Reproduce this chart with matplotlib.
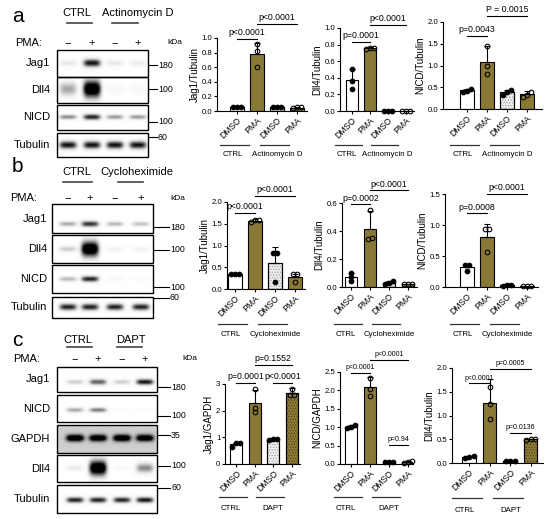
import numpy as np
import matplotlib
matplotlib.use('Agg')
import matplotlib.pyplot as plt
from matplotlib.patches import Rectangle

plt.rcParams['font.family'] = ['Liberation Sans', 'DejaVu Sans']
plt.rcParams['hatch.linewidth'] = 0.5

W, H = 550, 519
OLIVE = '#8a7934'
LIGHT = '#ededed'

# ---------------- bar chart data (DMSO, PMA, DMSO, PMA) ----------------
tick_labels = ['DMSO', 'PMA', 'DMSO', 'PMA']

# a: Actinomycin D
a1_pts = [[0.05, 0.06, 0.05], [0.60, 0.82, 0.92], [0.06, 0.06, 0.06], [0.04, 0.05, 0.05]]
a1_err = [0.01, 0.15, 0.005, 0.01]
a2_pts = [[0.50, 0.36, 0.27], [0.76, 0.76, 0.75], [0.005, 0.005, 0.005], [0.005, 0.005, 0.005]]
a2_err = [0.13, 0.01, 0.0, 0.0]
a3_pts = [[0.40, 0.47, 0.42], [1.45, 1.00, 0.80], [0.43, 0.33, 0.40], [0.40, 0.28, 0.33]]
a3_err = [0.04, 0.37, 0.05, 0.08]

# b: Cycloheximide
b1_pts = [[0.34, 0.34, 0.34], [1.58, 1.58, 1.55], [0.82, 0.82, 0.15], [0.34, 0.34, 0.17]]
b1_err = [0.01, 0.03, 0.36, 0.06]
b2_pts = [[0.10, 0.07, 0.04], [0.55, 0.34, 0.35], [0.04, 0.03, 0.025], [0.02, 0.02, 0.02]]
b2_err = [0.03, 0.13, 0.01, 0.0]
b3_pts = [[0.36, 0.36, 0.26], [0.93, 0.93, 0.57], [0.02, 0.03, 0.04], [0.01, 0.01, 0.01]]
b3_err = [0.03, 0.2, 0.01, 0.0]

# c: DAPT
c1_pts = [[0.78, 0.78, 0.65], [2.80, 2.10, 1.95], [0.92, 0.92, 0.90], [2.80, 2.60, 2.60]]
c1_err = [0.05, 0.5, 0.02, 0.2]
c2_pts = [[1.05, 1.00, 0.98], [2.35, 2.05, 1.85], [0.05, 0.05, 0.06], [0.07, 0.05, 0.04]]
c2_err = [0.05, 0.27, 0.01, 0.02]
c3_pts = [[0.15, 0.12, 0.10], [1.60, 1.24, 0.92], [0.05, 0.05, 0.04], [0.50, 0.50, 0.49]]
c3_err = [0.03, 0.52, 0.01, 0.01]

# ---------------- western blot band intensities (4 lanes) ----------------
a_blot_names = ['Jag1', 'Dll4', 'NICD', 'Tubulin']
a_bands = [[0.18, 0.95, 0.18, 0.15], [0.45, 1.3, 0.07, 0.07],
           [0.55, 0.9, 0.5, 0.5], [0.95, 0.95, 0.95, 0.95]]
a_kda = ['180', '100', '100', '60']

b_blot_names = ['Jag1', 'Dll4', 'NICD', 'Tubulin']
b_bands = [[0.45, 0.85, 0.4, 0.35], [0.3, 1.3, 0.1, 0.1],
           [0.4, 0.9, 0.06, 0.04], [0.9, 0.9, 0.9, 0.9]]
b_kda = ['180', '100', '100', '60']

c_blot_names = ['Jag1', 'NICD', 'GAPDH', 'Dll4', 'Tubulin']
c_bands = [[0.3, 0.7, 0.3, 0.95], [0.45, 0.6, 0.04, 0.04], [1.0, 0.95, 1.0, 0.95],
           [0.15, 1.3, 0.06, 0.55], [0.9, 0.9, 0.9, 0.95]]
c_kda = ['180', '100', '35', '100', '60']

fig = plt.figure(figsize=(W / 100, H / 100), dpi=100)
ov = fig.add_axes([0, 0, 1, 1])
ov.set_xlim(0, W)
ov.set_ylim(H, 0)
ov.axis('off')


def px_axes(left, top, right, bottom):
    return fig.add_axes([left / W, 1 - bottom / H, (right - left) / W, (bottom - top) / H])


def draw_blot(x0, y0, x1, y1, lanes, vals, yc, hts, bg=0.0):
    xs = np.linspace(x0, x1, int((x1 - x0) * 4))
    ys = np.linspace(y0, y1, int((y1 - y0) * 4))
    X, Y = np.meshgrid(xs, ys)
    img = np.full(X.shape, float(bg))
    for xc, v, h in zip(lanes, vals, hts):
        img += v * np.exp(-((X - xc) / 9.0) ** 4 - ((Y - yc) / h) ** 2)
    img = np.clip(img, 0, 1)
    ov.imshow(img, cmap='Greys', vmin=0, vmax=1, extent=(x0, x1, y1, y0),
              aspect='auto', interpolation='bilinear', zorder=1)
    ov.add_patch(Rectangle((x0, y0), x1 - x0, y1 - y0, fill=False, lw=1.0,
                           edgecolor='k', zorder=2))


def blot_panel(letter, ly, head, head_x, head_y, head_lines, line_y, pma_y, pma_x,
               lanes, kda_x, names, bands, box_x, boxes, ycs, hts, bgs, label_x,
               kda, kda_y, mk_x1):
    bx0, bx1 = box_x
    ov.text(12, ly, letter, fontsize=15, va='center', ha='left')
    for t, hx, (l0, l1) in zip(head, head_x, head_lines):
        ov.text(hx, head_y, t, fontsize=8, ha='center', va='center')
        ov.plot([l0, l1], [line_y, line_y], color='#444444', lw=1.2)
    ov.text(pma_x, pma_y, 'PMA:', fontsize=8, ha='left', va='center')
    for k, lx in enumerate(lanes):
        ov.text(lx, pma_y, '\u2212' if k % 2 == 0 else '+', fontsize=8,
                ha='center', va='center')
    ov.text(kda_x, pma_y, 'kDa', fontsize=6, ha='left', va='center')
    for name, vals, (by0, by1), yc, h, bg in zip(names, bands, boxes, ycs, hts, bgs):
        draw_blot(bx0, by0, bx1, by1, lanes, vals, yc, h, bg)
        ov.text(label_x, (by0 + by1) / 2, name, fontsize=8, ha='right', va='center')
    for t, y in zip(kda, kda_y):
        ov.plot([bx1, mk_x1], [y, y], color='k', lw=0.8)
        ov.text(mk_x1 + 1, y, t, fontsize=6.3, ha='left', va='center')


def spread(vals, ymax):
    vals = np.asarray(vals, float)
    order = np.argsort(vals)
    offs = np.zeros(len(vals))
    tol = 0.045 * ymax
    clusters, cur = [], [order[0]]
    for a, b in zip(order[:-1], order[1:]):
        if vals[b] - vals[a] < tol:
            cur.append(b)
        else:
            clusters.append(cur)
            cur = [b]
    clusters.append(cur)
    for cl in clusters:
        n = len(cl)
        for k, idx in enumerate(cl):
            offs[idx] = (k - (n - 1) / 2) * 0.22
    return offs


def bar_chart(rect, xlim, ymax, yticks, fmt, ylabel, pts, err, faces, hatches,
              brackets, groups, gline_y, glabel_y, pfont=6.3):
    ax = px_axes(*rect)
    ax.set_facecolor('none')
    x = np.arange(len(pts))
    for i in x:
        m = np.mean(pts[i])
        ax.bar(i, m, width=0.66, color=faces[i], edgecolor='k', linewidth=0.8, zorder=2)
        if hatches[i]:
            ax.bar(i, m, width=0.66, color='none', edgecolor=hatches[i], hatch='......',
                   linewidth=0, zorder=2.5)
            ax.bar(i, m, width=0.66, color='none', edgecolor='k', linewidth=0.8, zorder=2.6)
        if err[i] > 0:
            ax.errorbar(i, m, yerr=[[0], [err[i]]], color='k', lw=0.8, capsize=2,
                        capthick=0.8, zorder=3)
        offs = spread(pts[i], ymax)
        filled = (i % 2 == 0)
        ax.plot(i + offs, pts[i], 'o', ms=3.3, mfc='k' if filled else 'none',
                mec='k', mew=0.8, zorder=4, clip_on=False)
    ax.set_xlim(*xlim)
    ax.set_ylim(0, ymax)
    for s in ['top', 'right']:
        ax.spines[s].set_visible(False)
    for s in ['left', 'bottom']:
        ax.spines[s].set_linewidth(0.8)
    ax.set_yticks(yticks)
    ax.set_yticklabels([fmt.format(t) for t in yticks])
    ax.set_xticks(x)
    ax.set_xticklabels(tick_labels, rotation=45, ha='right', rotation_mode='anchor',
                       fontsize=6.2)
    ax.tick_params(axis='both', length=2.2, width=0.8, pad=1.2)
    ax.tick_params(axis='y', labelsize=5.6)
    ax.set_ylabel(ylabel, fontsize=7, labelpad=1.5)
    for i0, i1, y, txt in brackets:
        ax.plot([i0, i1], [y, y], color='k', lw=0.8, clip_on=False)
        ax.annotate(txt, ((i0 + i1) / 2, y), xytext=(0, 1.2), textcoords='offset points',
                    ha='center', va='bottom', fontsize=pfont, annotation_clip=False)
    fig.canvas.draw()
    for k, (txt, i0, i1) in enumerate(groups):
        p0 = ax.transData.transform((i0, 0))[0]
        p1 = ax.transData.transform((i1, 0))[0]
        l0, l1 = p0 - 17, p1 - 8
        ov.plot([l0, l1], [gline_y, gline_y], color='#333333', lw=0.9)
        shift = -2 if k == 0 else 3
        ov.text((l0 + l1) / 2 + shift, glabel_y, txt, fontsize=5.7, ha='center',
                va='center')
    return ax


# ---------------- blots ----------------
blot_panel('a', 16, ['CTRL', 'Actinomycin D'], [77, 138], 13, [(67, 92), (112, 138)], 23,
           43, 15, [68, 92, 115, 138], 167, a_blot_names, a_bands, (57, 148),
           [(50, 77), (77, 103), (105, 130), (133, 157)], [63, 89, 117, 145],
           [[3, 4, 3, 3], [7, 9, 6, 6], [2.5, 3, 2.5, 2.5], [4, 4, 4, 4]],
           [0, 0, 0, 0], 50, a_kda, [65, 89, 122, 137], 157)

blot_panel('b', 166, ['CTRL', 'Cycloheximide'], [77, 137], 172, [(63, 92), (118, 143)], 182,
           198, 10, [68, 90, 115, 141], 170, b_blot_names, b_bands, (52, 153),
           [(204, 233), (235, 263), (265, 293), (297, 318)], [224, 249, 279, 307],
           [[2.5, 3, 2.5, 2.5], [3, 8, 3, 3], [2.5, 3, 2.5, 2.5], [3.5, 3.5, 3.5, 3.5]],
           [0, 0, 0, 0], 47, b_kda, [227, 250, 287, 298], 169)

blot_panel('c', 341, ['CTRL', 'DAPT'], [78, 131], 340, [(67, 92), (117, 142)], 347,
           359, 13, [75, 98, 122, 145], 182, c_blot_names, c_bands, (57, 157),
           [(367, 392), (395, 422), (425, 453), (455, 482), (485, 513)],
           [382, 410, 438, 468, 500],
           [[2.5, 3, 2.5, 3], [2.5, 2.5, 2.5, 2.5], [3.5, 3.5, 3.5, 3.5], [3, 8, 3, 5],
            [3, 3, 3, 3]],
           [0, 0, 0.3, 0, 0], 50, c_kda, [387, 416, 435, 466, 488], 170)

# ---------------- bar charts ----------------
face_ab = ['white', OLIVE, LIGHT, OLIVE]
hatch_ab = [None, None, '#9a9a9a', None]
face_c = ['white', OLIVE, LIGHT, OLIVE]
hatch_c = [None, None, '#9a9a9a', '#4a4020']

bar_chart((217, 38, 307, 111), (-1.0, 3.5), 1.0, [0, 0.2, 0.4, 0.6, 0.8, 1.0], '{:.1f}',
          'Jag1/Tubulin', a1_pts, a1_err, face_ab, hatch_ab,
          [(0, 1, 0.99, 'p<0.0001'), (1, 3, 1.19, 'p<0.0001')],
          [('CTRL', 0, 1), ('Actinomycin D', 2, 3)], 145, 155)
bar_chart((340, 28, 414, 111), (-0.67, 3.44), 1.0, [0, 0.2, 0.4, 0.6, 0.8, 1.0], '{:.1f}',
          'Dll4/Tubulin', a2_pts, a2_err, face_ab, hatch_ab,
          [(0, 1, 0.83, 'p=0.0001'), (1, 3, 1.04, 'p<0.0001')],
          [('CTRL', 0, 1), ('Actinomycin D', 2, 3)], 145, 155)
bar_chart((443, 22, 542, 109), (-1.2, 3.75), 2.0, [0, 0.5, 1.0, 1.5, 2.0], '{:.1f}',
          'NICD/Tubulin', a3_pts, a3_err, face_ab, hatch_ab,
          [(0, 1, 1.68, 'p=0.0043'), (1, 3, 2.14, 'P = 0.0015')],
          [('CTRL', 0, 1), ('Actinomycin D', 2, 3)], 145, 155)

bar_chart((227, 202, 305, 289), (-0.4, 3.5), 2.0, [0, 0.5, 1.0, 1.5, 2.0], '{:.1f}',
          'Jag1/Tubulin', b1_pts, b1_err, face_ab, hatch_ab,
          [(0, 1, 1.75, 'p<0.0001'), (1, 3, 2.14, 'p<0.0001')],
          [('CTRL', 0, 1), ('Cycloheximide', 2, 3)], 324, 335)
bar_chart((342, 203, 417, 287), (-0.47, 3.47), 0.6, [0, 0.2, 0.4, 0.6], '{:.1f}',
          'Dll4/Tubulin', b2_pts, b2_err, face_ab, hatch_ab,
          [(0, 1, 0.59, 'p=0.0002'), (1, 3, 0.69, 'p<0.0001')],
          [('CTRL', 0, 1), ('Cycloheximide', 2, 3)], 324, 335)
bar_chart((445, 194, 538, 287), (-1.1, 3.55), 1.5, [0, 0.5, 1.0, 1.5], '{:.1f}',
          'NICD/Tubulin', b3_pts, b3_err, face_ab, hatch_ab,
          [(0, 1, 1.19, 'p=0.0008'), (1, 3, 1.5, 'p<0.0001')],
          [('CTRL', 0, 1), ('Cycloheximide', 2, 3)], 324, 335)

bar_chart((225, 384, 300, 464), (-0.6, 3.45), 3.0, [0, 1, 2, 3], '{:.0f}',
          'Jag1/GAPDH', c1_pts, c1_err, face_c, hatch_c,
          [(0, 1, 3.04, 'p=0.0001'), (2, 3, 3.04, 'p<0.0001'), (1, 3, 3.71, 'p=0.1552')],
          [('CTRL', 0, 1), ('DAPT', 2, 3)], 497, 508)
bar_chart((340, 372, 413, 464), (-0.58, 3.26), 2.5, [0, 0.5, 1.0, 1.5, 2.0, 2.5], '{:.1f}',
          'NICD/GAPDH', c2_pts, c2_err, face_c, hatch_c,
          [(0, 1, 2.47, 'p<0.0001'), (1, 3, 2.83, 'p<0.0001'), (2, 3, 0.52, 'p=0.94')],
          [('CTRL', 0, 1), ('DAPT', 2, 3)], 497, 508, pfont=5.0)
bar_chart((452, 368, 543, 463), (-0.83, 3.6), 2.0, [0, 0.5, 1.0, 1.5, 2.0], '{:.1f}',
          'Dll4/Tubulin', c3_pts, c3_err, face_c, hatch_c,
          [(0, 1, 1.68, 'p<0.0001'), (1, 3, 1.98, 'p=0.0005'), (2, 3, 0.63, 'p=0.0136')],
          [('CTRL', 0, 1), ('DAPT', 2, 3)], 498, 510, pfont=5.0)

fig.savefig('out.png', dpi=100)
